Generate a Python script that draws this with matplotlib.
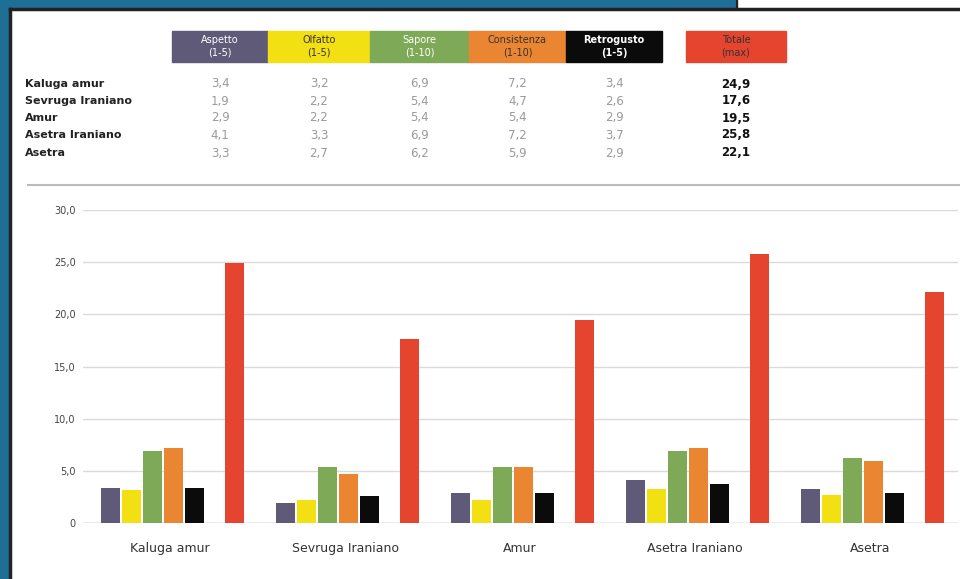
import matplotlib
matplotlib.use("Agg")
import matplotlib.pyplot as plt
from matplotlib.patches import Rectangle
import numpy as np

# data
caviars = ["Kaluga amur", "Sevruga Iraniano", "Amur", "Asetra Iraniano", "Asetra"]
aspetto = [3.4, 1.9, 2.9, 4.1, 3.3]
olfatto = [3.2, 2.2, 2.2, 3.3, 2.7]
sapore = [6.9, 5.4, 5.4, 6.9, 6.2]
consistenza = [7.2, 4.7, 5.4, 7.2, 5.9]
retrogusto = [3.4, 2.6, 2.9, 3.7, 2.9]
totale = [24.9, 17.6, 19.5, 25.8, 22.1]
headers = ["Aspetto\n(1-5)", "Olfatto\n(1-5)", "Sapore\n(1-10)",
           "Consistenza\n(1-10)", "Retrogusto\n(1-5)", "Totale\n(max)"]
yticks = [0, 5, 10, 15, 20, 25, 30]

colors = ["#5f5a78", "#f3e012", "#7eaa58", "#ea8532", "#0b0b0b", "#e5452f"]
txt_colors = ["white", "#333333", "white", "#333333", "white", "#333333"]
series = [aspetto, olfatto, sapore, consistenza, retrogusto, totale]

W, H = 960, 579
fig = plt.figure(figsize=(W / 100, H / 100), dpi=100, facecolor="white")

# scanned page frame (pixel coordinates)
bg = fig.add_axes([0, 0, 1, 1], zorder=-5)
bg.set_xlim(0, W); bg.set_ylim(H, 0); bg.axis("off")
bg.add_patch(Rectangle((0, 0), W, H, color="white"))
bg.add_patch(Rectangle((0, 0), 737, 9, color="#1f6e96"))
bg.add_patch(Rectangle((0, 0), 10, H, color="#1f6e96"))
bg.plot([737, 737], [0, 9], color="#222222", lw=1.5)
bg.plot([10, W], [9, 9], color="#222222", lw=2.5)
bg.plot([10, 10], [9, H], color="#222222", lw=2.5)
bg.plot([28, W], [185, 185], color="#bbbbbb", lw=1.5)

# header colour boxes
box_x = [172, 268, 370, 469, 566, 686]
box_w = [96, 102, 99, 97, 96, 100]
for x0, w, c, tc, label in zip(box_x, box_w, colors, txt_colors, headers):
    bg.add_patch(Rectangle((x0, 31), w, 31, color=c))
    bg.text(x0 + w / 2, 46.5, label, ha="center", va="center", fontsize=7,
            color=tc, linespacing=1.3,
            fontweight="bold" if c == "#0b0b0b" else "normal")

# table of scores
row_y = [84, 101, 118, 135, 153]
for i, name in enumerate(caviars):
    bg.text(25, row_y[i], name, ha="left", va="center", fontsize=8,
            fontweight="bold", color="#222222")
    for j, s in enumerate(series):
        val = f"{s[i]:.1f}".replace(".", ",")
        last = j == len(series) - 1
        bg.text(box_x[j] + box_w[j] / 2, row_y[i], val, ha="center", va="center",
                fontsize=8.5, color="#111111" if last else "#9a9a9a",
                fontweight="bold" if last else "normal")

# bar chart
ax = fig.add_axes([82.5 / W, (H - 523) / H, 875 / W, 313 / H])
x = np.arange(len(caviars))
bw = 0.11
offsets = [-0.34, -0.22, -0.10, 0.02, 0.14, 0.37]
for s, c, off in zip(series, colors, offsets):
    ax.bar(x + off, s, width=bw, color=c, zorder=3)

ax.set_xlim(-0.5, len(caviars) - 0.5)
ax.set_ylim(0, 30)
ax.set_yticks(yticks)
ax.set_yticklabels([f"{v},0" if v else "0" for v in yticks], fontsize=7, color="#444444")
ax.set_xticks(x)
ax.set_xticklabels(caviars, fontsize=9, color="#333333")
ax.tick_params(axis="x", length=0, pad=14)
ax.tick_params(axis="y", length=0, pad=5)
ax.grid(axis="y", color="#dadada", lw=1, zorder=0)
for sp in ax.spines.values():
    sp.set_visible(False)
ax.axhline(0, color="#bbbbbb", lw=1, zorder=2)

fig.savefig("out.png", dpi=100)
